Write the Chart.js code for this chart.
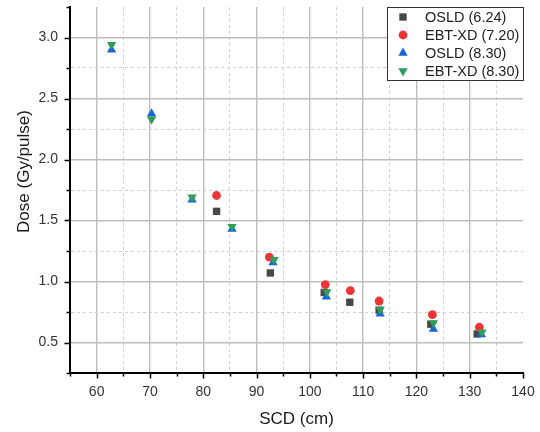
<!DOCTYPE html>
<html><head><meta charset="utf-8">
<script src="https://cdn.jsdelivr.net/npm/chart.js@4/dist/chart.umd.min.js"></script>
<style>html,body{margin:0;padding:0;background:#fff}#wrap{width:540px;height:432px;position:relative}</style>
</head><body><div id="wrap"><canvas id="c" width="540" height="432"></canvas></div>
<script>
// ---- data ----
const seriesLabels = ['OSLD (6.24)', 'EBT-XD (7.20)', 'OSLD (8.30)', 'EBT-XD (8.30)'];
const osld624X = [82.5, 92.6, 102.7, 107.5, 113.0, 122.7, 131.4];
const osld624Y = [1.575, 1.07, 0.91, 0.83, 0.765, 0.65, 0.57];
const ebt720X  = [82.5, 92.4, 102.9, 107.6, 113.0, 123.0, 131.8];
const ebt720Y  = [1.705, 1.20, 0.975, 0.925, 0.84, 0.728, 0.625];
const osld830X = [62.8, 70.3, 77.9, 85.4, 93.1, 103.1, 113.2, 123.2, 132.2];
const osld830Y = [2.90, 2.375, 1.67, 1.43, 1.155, 0.875, 0.735, 0.61, 0.565];
const ebt830X  = [62.8, 70.3, 77.9, 85.4, 93.3, 103.2, 113.2, 123.2, 132.3];
const ebt830Y  = [2.94, 2.33, 1.69, 1.45, 1.178, 0.915, 0.77, 0.66, 0.585];
const xTickLabels = [60, 70, 80, 90, 100, 110, 120, 130, 140];
const yTickLabels = ['0.5', '1.0', '1.5', '2.0', '2.5', '3.0'];
const xTitle = 'SCD (cm)';
const yTitle = 'Dose (Gy/pulse)';

const toPts = (xs, ys) => xs.map((x, i) => ({x: x, y: ys[i]}));
const colors = ['#474747', '#ee3535', '#1c64dc', '#2e9e5b'];
const styles = ['rect', 'circle', 'triangle', 'triangle'];
const rots = [0, 0, 0, 180];
const radii = [5.2, 4.4, 5.4, 5.4];
const dataSets = [toPts(osld624X, osld624Y), toPts(ebt720X, ebt720Y), toPts(osld830X, osld830Y), toPts(ebt830X, ebt830Y)];

const isMajorX = v => xTickLabels.includes(Math.round(v)) && Math.abs(v - Math.round(v)) < 1e-6;
const yLabelFor = v => { const s = v.toFixed(2); const l = (Math.round(v * 100) / 100).toFixed(1); return (Math.abs(v * 2 - Math.round(v * 2)) < 1e-6 && yTickLabels.includes(l)) ? l : ''; };

const FONT = "'Liberation Sans', Arial, sans-serif";

const extras = {
  id: 'extras',
  afterDraw(chart) {
    const ctx = chart.ctx, xs = chart.scales.x, ys = chart.scales.y, ca = chart.chartArea;
    ctx.save();
    // tick marks
    ctx.strokeStyle = '#000'; ctx.lineWidth = 1.5;
    xs.ticks.forEach(t => {
      const px = Math.round(xs.getPixelForValue(t.value)) + 0.5;
      const len = isMajorX(t.value) ? 5.5 : 3.5;
      ctx.beginPath(); ctx.moveTo(px, ca.bottom); ctx.lineTo(px, ca.bottom + len); ctx.stroke();
    });
    ys.ticks.forEach(t => {
      const py = Math.round(ys.getPixelForValue(t.value)) + 0.5;
      const len = yLabelFor(t.value) ? 5.5 : 3.5;
      ctx.beginPath(); ctx.moveTo(ca.left, py); ctx.lineTo(ca.left - len, py); ctx.stroke();
    });
    // axis titles
    ctx.fillStyle = '#1a1a1a';
    ctx.font = '17px ' + FONT;
    ctx.textAlign = 'center'; ctx.textBaseline = 'middle';
    ctx.fillText(xTitle, (ca.left + ca.right) / 2, 419);
    ctx.save(); ctx.translate(24, 171.5); ctx.rotate(-Math.PI / 2);
    ctx.fillText(yTitle, 0, 0); ctx.restore();
    // legend
    const bx = ca.right - 136, by = ca.top, bw = 137, bh = 74;
    ctx.fillStyle = '#fff'; ctx.fillRect(bx, by, bw, bh);
    ctx.strokeStyle = '#333'; ctx.lineWidth = 1;
    ctx.strokeRect(bx + 0.5, by + 0.5, bw - 1, bh - 1);
    ctx.font = '14.5px ' + FONT; ctx.textAlign = 'left'; ctx.textBaseline = 'middle';
    chart.data.datasets.forEach((ds, i) => {
      const yy = by + 10 + i * 18;
      ctx.fillStyle = ds.pointBackgroundColor;
      Chart.helpers.drawPoint(ctx, {pointStyle: ds.pointStyle, rotation: ds.pointRotation, radius: ds.pointRadius, borderWidth: 0}, bx + 16, yy);
      ctx.fillStyle = '#222';
      ctx.fillText(ds.label, bx + 38, yy + 0.5);
    });
    ctx.restore();
  }
};

new Chart(document.getElementById('c'), {
  type: 'scatter',
  data: {
    datasets: dataSets.map((d, i) => ({
      label: seriesLabels[i], data: d,
      pointStyle: styles[i], pointRotation: rots[i], pointRadius: radii[i], pointHoverRadius: radii[i],
      pointBackgroundColor: colors[i], pointBorderColor: colors[i], pointBorderWidth: 0,
      backgroundColor: colors[i], borderColor: colors[i], order: 4 - i
    }))
  },
  options: {
    responsive: false, animation: false, devicePixelRatio: 1,
    layout: {padding: {top: 7, right: 17, left: 0, bottom: 0}},
    plugins: {legend: {display: false}, tooltip: {enabled: false}},
    scales: {
      x: {
        type: 'linear', min: 55, max: 140,
        afterFit: s => { s.height = 59; s.paddingLeft = 0; s.paddingRight = 0; },
        ticks: {stepSize: 5, autoSkip: false, maxRotation: 0, padding: 12, color: '#333',
          font: {family: FONT, size: 14, lineHeight: 1},
          callback: v => isMajorX(v) ? String(Math.round(v)) : ''},
        grid: {drawTicks: false,
          color: c => { const v = c.tick ? c.tick.value : 0; if (v <= 55 || v >= 140) return 'rgba(0,0,0,0)'; return isMajorX(v) ? '#bdbdbd' : '#cfcfcf'; },
          lineWidth: c => (c.tick && isMajorX(c.tick.value)) ? 1.4 : 1},
        border: {display: true, color: '#000', width: 2,
          dash: c => (c.tick && !isMajorX(c.tick.value)) ? [3, 3] : []}
      },
      y: {
        type: 'linear', min: 0.25, max: 3.25,
        afterFit: s => { s.width = 70; s.paddingTop = 0; s.paddingBottom = 0; },
        ticks: {stepSize: 0.25, autoSkip: false, padding: 12, color: '#333',
          font: {family: FONT, size: 14, lineHeight: 1},
          callback: v => yLabelFor(v)},
        grid: {drawTicks: false,
          color: c => { const v = c.tick ? c.tick.value : 0; if (v <= 0.26 || v >= 3.24) return 'rgba(0,0,0,0)'; return yLabelFor(v) ? '#bdbdbd' : '#cfcfcf'; },
          lineWidth: c => (c.tick && yLabelFor(c.tick.value)) ? 1.4 : 1},
        border: {display: true, color: '#000', width: 2,
          dash: c => (c.tick && !yLabelFor(c.tick.value)) ? [3, 3] : []}
      }
    }
  },
  plugins: [extras]
});
</script></body></html>
